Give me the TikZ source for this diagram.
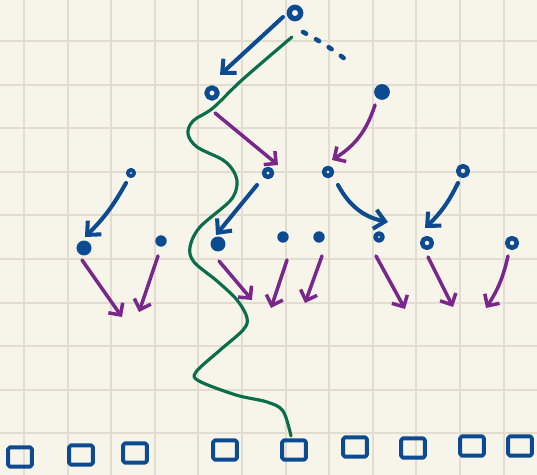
\documentclass[tikz,border=0pt]{standalone}
\usepackage{tikz}
\usetikzlibrary{arrows.meta}
\definecolor{paper}{HTML}{F7F5EA}
\definecolor{gridline}{HTML}{E1DED1}
\definecolor{inkblue}{HTML}{0C4A91}
\definecolor{inkpurple}{HTML}{7A278B}
\definecolor{inkgreen}{HTML}{0B6E4A}
\tikzset{
  ringnode/.style={circle, draw=inkblue, line width=2.6pt, inner sep=0pt, minimum size=#1},
  dotnode/.style={circle, fill=inkblue, inner sep=0pt, minimum size=#1},
  boxnode/.style={rectangle, draw=inkblue, line width=2.2pt, rounded corners=1pt, inner sep=0pt,
    minimum width=13.5pt, minimum height=11pt},
  bluearrow/.style={draw=inkblue, line width=2.3pt, -{Straight Barb[length=6pt, width=11pt]}},
  purplearrow/.style={draw=inkpurple, line width=2pt, -{Straight Barb[length=5pt, width=10pt]}}
}

\begin{document}
\begin{tikzpicture}[x=0.02cm, y=-0.02cm, line cap=round, line join=round]
  % one unit = one pixel of the sheet, y grows downwards
  \fill[paper] (0,0) rectangle (537,475);
  \useasboundingbox (0,0) rectangle (537,475);
  \foreach \k in {0,...,11} \draw[gridline, line width=1.2pt] ({24+43.6*\k},0) -- ({24+43.6*\k},475);
  \foreach \k in {0,...,9} \draw[gridline, line width=1.2pt] (0,{41+43.6*\k}) -- (537,{41+43.6*\k});

  % tree nodes
  \node[ringnode=6.5pt, line width=3pt] (root) at (295,13) {};
  \node[ringnode=6pt, line width=2.8pt] (l1a) at (212,93) {};
  \node[dotnode=9pt] (l1b) at (382,92) {};
  \node[ringnode=3.5pt, line width=2.2pt] (l2a) at (131,173) {};
  \node[ringnode=4.5pt] (l2b) at (268,173) {};
  \node[ringnode=4.5pt] (l2c) at (328,172) {};
  \node[ringnode=5.5pt] (l2d) at (463,171) {};
  \node[dotnode=8.5pt] (l3a) at (84,248) {};
  \node[dotnode=6.5pt] (l3b) at (161,241) {};
  \node[dotnode=8.5pt] (l3c) at (218,244) {};
  \node[dotnode=6.5pt] (l3d) at (283,237) {};
  \node[dotnode=6.5pt] (l3e) at (319,237) {};
  \node[ringnode=4pt] (l3f) at (379,237) {};
  \node[ringnode=5.5pt] (l3g) at (427,243) {};
  \node[ringnode=5.5pt] (l3h) at (512,243) {};

  % free ends of the last arrows
  \coordinate (e1) at (122,317); \coordinate (e2) at (139,312);
  \coordinate (e3) at (252,300); \coordinate (e4) at (271,308);
  \coordinate (e5) at (305,303); \coordinate (e6) at (405,309);
  \coordinate (e7) at (453,307); \coordinate (e8) at (486,308);

  % blue arrows
  \draw[bluearrow] ([shift={(-12,4)}]root.center) -- ([shift={(8,-18)}]l1a.center);
  \draw[bluearrow] ([shift={(-5,10)}]l2a.center) to[bend left=8] ([shift={(1,-11)}]l3a.center);
  \draw[bluearrow] ([shift={(-11,12)}]l2b.center) -- ([shift={(-2,-9)}]l3c.center);
  \draw[bluearrow] ([shift={(10,13)}]l2c.center) to[bend right=25] ([shift={(9,-15)}]l3f.center);
  \draw[bluearrow] ([shift={(-5,12)}]l2d.center) to[bend left=10] ([shift={(-2,-15)}]l3g.center);
  \draw[inkblue, line width=2.6pt, dash pattern=on 2pt off 6.5pt]
    ([shift={(8,19)}]root.center) to[bend left=5] ([shift={(-32,-29)}]l1b.center);

  % purple arrows
  \draw[purplearrow] ([shift={(3,20)}]l1a.center) -- ([shift={(10,-8)}]l2b.center);
  \draw[purplearrow] ([shift={(-7,13)}]l1b.center) to[bend left=20] ([shift={(4,-12)}]l2c.center);
  \draw[purplearrow] ([shift={(-2,12)}]l3a.center) -- (e1);
  \draw[purplearrow] ([shift={(-3,15)}]l3b.center) -- (e2);
  \draw[purplearrow] ([shift={(1,17)}]l3c.center) -- (e3);
  \draw[purplearrow] ([shift={(4,23)}]l3d.center) -- (e4);
  \draw[purplearrow] ([shift={(3,19)}]l3e.center) -- (e5);
  \draw[purplearrow] ([shift={(-3,19)}]l3f.center) -- (e6);
  \draw[purplearrow] ([shift={(1,14)}]l3g.center) -- (e7);
  \draw[purplearrow] ([shift={(-4,13)}]l3h.center) to[bend left=10] (e8);

  % green path down to one leaf
  \draw[inkgreen, line width=1.8pt] plot[smooth, tension=0.55] coordinates {
    (292,37) (242,80) (213,108) (193,121) (188,134) (197,147) (223,160) (234,172)
    (237,185) (230,201) (200,227) (190,247) (194,262) (217,281) (237,300) (247,318)
    (243,330) (219,351) (196,372) (199,381) (236,395) (267,402) (283,411) (291,436)};

  % leaves
  \foreach \bx/\by [count=\i] in {20/457, 81/455, 135/453, 225/450, 294/450, 355/447, 413/448, 472/446, 520/446}
    \node[boxnode] (b\i) at (\bx,\by) {};
\end{tikzpicture}
\end{document}
